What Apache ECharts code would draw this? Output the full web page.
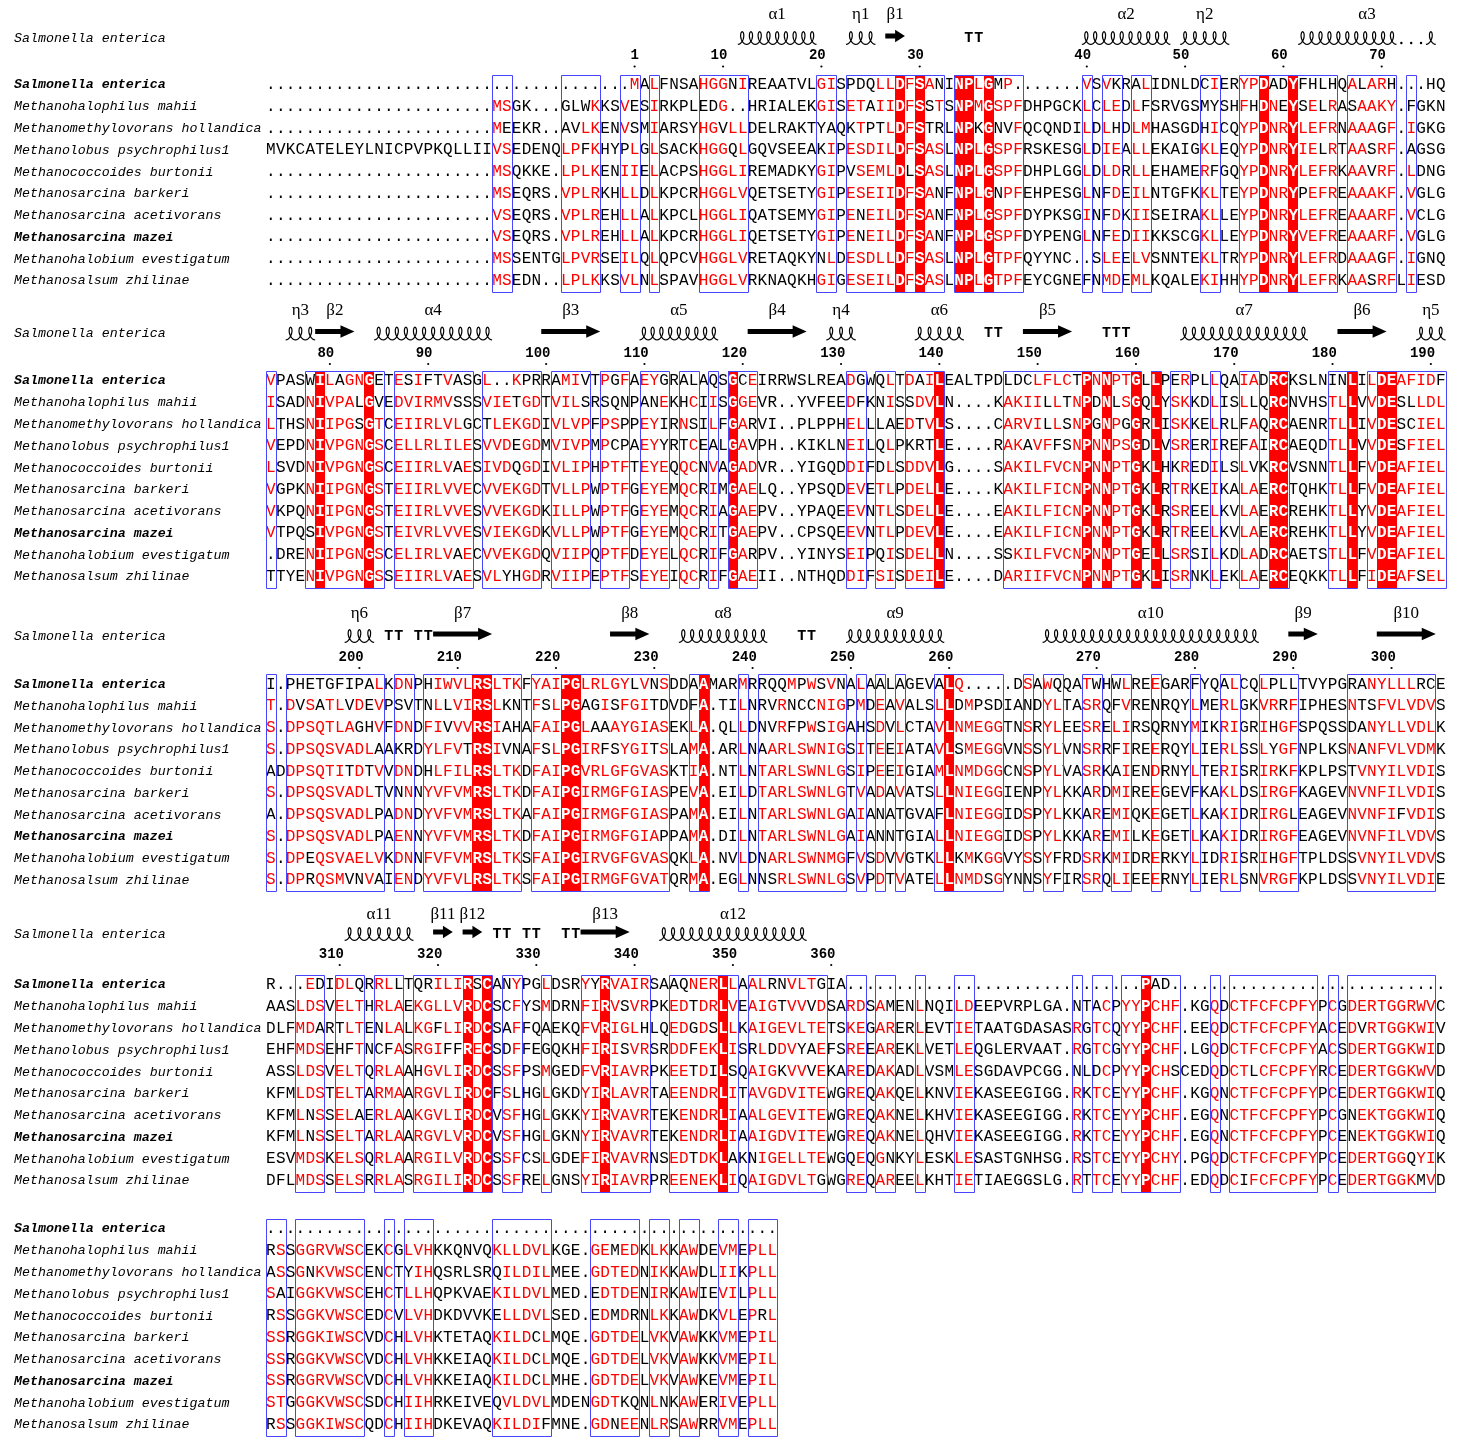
<!DOCTYPE html>
<html>
<head>
<meta charset="utf-8">
<script src="https://cdn.jsdelivr.net/npm/echarts@6/dist/echarts.min.js"></script>
<style>
  html, body { margin: 0; padding: 0; background: #ffffff; }
  #chart { width: 1464px; height: 1437px; }
</style>
</head>
<body>
<div id="chart"></div>
<script>
// ---------------------------------------------------------------------------
// Multiple sequence alignment (ESPript style), Salmonella enterica numbering
// ---------------------------------------------------------------------------

const speciesNames = [
  'Salmonella enterica',
  'Methanohalophilus mahii',
  'Methanomethylovorans hollandica',
  'Methanolobus psychrophilus1',
  'Methanococcoides burtonii',
  'Methanosarcina barkeri',
  'Methanosarcina acetivorans',
  'Methanosarcina mazei',
  'Methanohalobium evestigatum',
  'Methanosalsum zhilinae'
];
const referenceName = 'Salmonella enterica';

// alignment block 1 (columns 1-120)
const block1 = [
  '..........' + '..........' + '..........' + '.......' + 'MALFNSAHGGNIREAATVLGISPDQLLDFSANINPLGMP' + '.......' + 'VSVKRALIDNLDCIERYPDADYFHLHQALARH...HQ',
  '..........' + '..........' + '...' + 'MSGK...GLWKKSVESI' + 'RKPLEDG..HRIALEKGISETAIIDFSSTSNPMGSPFDHP' + 'GCKLCLEDLFSRVGSMYSHFHDNEYSELRASAAKY.FGKN',
  '..........' + '..........' + '...' + 'MEEKR..AVLKENVSMI' + 'ARSYHGVLLDELRAKTYAQKTPTLDFSTRLNPKGNVFQCQ' + 'NDILDLHDLMHASGDHICQYPDNRYLEFRNAAAGF.IGKG',
  'MVKCATELEYLNICPVPKQLLIIVSEDENQLPFKHYPLGL' + 'SACKHGGQLGQVSEEAKIPESDILDFSASLNPLGSPFRSK' + 'ESGLDIEALLEKAIGKLEQYPDNRYIELRTAASRF.AGSG',
  '..........' + '..........' + '...' + 'MSQKKE.LPLKENIIEL' + 'ACPSHGGLIREMADKYGIPVSEMLDLSASLNPLGSPFDHP' + 'LGGLDLDRLLEHAMERFGQYPDNRYLEFRKAAVRF.LDNG',
  '..........' + '..........' + '...' + 'MSEQRS.VPLRKHLLDL' + 'KPCRHGGLVQETSETYGIPESEIIDFSANFNPLGNPFEHP' + 'ESGLNFDEILNTGFKKLTEYPDNRYPEFREAAAKF.VGLG',
  '..........' + '..........' + '...' + 'VSEQRS.VPLREHLLAL' + 'KPCLHGGLIQATSEMYGIPENEILDFSANFNPLGSPFDYP' + 'KSGINFDKIISEIRAKLLEYPDNRYLEFREAAARF.VCLG',
  '..........' + '..........' + '...' + 'VSEQRS.VPLREHLLAL' + 'KPCRHGGLIQETSETYGIPENEILDFSANFNPLGSPFDYP' + 'ENGLNFEDIIKKSCGKLLEYPDNRYVEFREAAARF.VGLG',
  '..........' + '..........' + '...' + 'MSSENTGLPVRSEILQL' + 'QPCVHGGLVRETAQKYNLDESDLLDFSASLNPLGTPFQYY' + 'NC..SLEELVSNNTEKLTRYPDNRYLEFRDAAAGF.IGNQ',
  '..........' + '..........' + '...' + 'MSEDN..LPLKKSVLNL' + 'SPAVHGGLVRKNAQKHGIGESEILDFSASLNPLGTPFEYC' + 'GNEFNMDEMLKQALEKIHHYPDNRYLEFRKAASRFLIESD'
];

// alignment block 2 (columns 121-240)
const block2 = [
  'VPASWILAGNGETESIFTVASGL..KPRRAMIVTPGFAEY' + 'GRALAQSGCEIRRWSLREADGWQLTDAILEALTPDLDCLF' + 'LCTPNNPTGLLPERPLLQAIADRCKSLNINLILDEAFIDF',
  'ISADNIVPALGVEDVIRMVSSSVIETGDTVILSRSQNPAN' + 'EKHCIISGGEVR..YVFEEDFKNISSDVLN....KAKIIL' + 'LTNPDNLSGQLYSKKDLISLLQRCNVHSTLLVVDESLLDL',
  'LTHSNIIPGSGTCEIIRLVLGCTLEKGDIVLVPFPSPPEY' + 'IRNSILFGARVI..PLPPHELLLAEDTVLS....CARVIL' + 'LSNPGNPGGRLISKKELRLFAQRCAENRTLLIVDESCIEL',
  'VEPDNIVPGNGSCELLRLILESVVDEGDMVIVPMPCPAEY' + 'YRTCEALGAVPH..KIKLNEILQLPKRTLE....RAKAVF' + 'FSNPNNPSGDLVSRERIREFAIRCAEQDTLLVVDESFIEL',
  'LSVDNIVPGNGSCEIIRLVAESIVDQGDIVLIPHPTFTEY' + 'EQQCNVAGADVR..YIGQDDIFDLSDDVLG....SAKILF' + 'VCNPNNPTGKLHKREDILSLVKRCVSNNTLLFVDEAFIEL',
  'VGPKNIIPGNGSTEIIRLVVECVVEKGDTVLLPWPTFGEY' + 'EMQCRIMGAELQ..YPSQDEVETLPDELLE....KAKILF' + 'ICNPNNPTGKLRTRKEIKALAERCTQHKTLLFVDEAFIEL',
  'VKPQNIIPGNGSTEIIRLVVESVVEKGDKILLPWPTFGEY' + 'EMQCRIAGAEPV..YPAQEEVNTLSDELLE....EAKILF' + 'ICNPNNPTGKLRSREELKVLAERCREHKTLLYVDEAFIEL',
  'VTPQSIVPGNGSTEIVRLVVESVIEKGDKVLLPWPTFGEY' + 'EMQCRITGAEPV..CPSQEEVNTLPDEVLE....EAKILF' + 'ICNPNNPTGKLRTREELKVLAERCREHKTLLYVDEAFIEL',
  '.DRENIIPGNGSCELIRLVAECVVEKGDQVIIPQPTFDEY' + 'ELQCRIFGARPV..YINYSEIPQISDELLN....SSKILF' + 'VCNPNNPTGELLSRSILKDLADRCAETSTLLFVDEAFIEL',
  'TTYENIVPGNGSSEIIRLVAESVLYHGDRVIIPEPTFSEY' + 'EIQCRIFGAEII..NTHQDDIFSISDEILE....DARIIF' + 'VCNPNNPTGKLISRNKLEKLAERCEQKKTLLFIDEAFSEL'
];

// alignment block 3 (columns 241-360)
const block3 = [
  'I.PHETGFIPALKDNPHIWVLRSLTKFYAIPGLRLGYLVN' + 'SDDAAMARMRRQQMPWSVNALAALAGEVALQ.....DSAW' + 'QQATWHWLREEGARFYQALCQLPLLTVYPGRANYLLLRCE',
  'T.DVSATLVDEVPSVTNLLVIRSLKNTFSLPGAGISFGIT' + 'DVDFA.TILNRVRNCCNIGPMDEAVALSLLDMPSDIANDY' + 'LTASRQFVRENRQYLMERLGKVRRFIPHESNTSFVLVDVS',
  'S.DPSQTLAGHVFDNDFIVVVRSIAHAFAIPGLAAAYGIA' + 'SEKLA.QLLDNVRFPWSIGAHSDVLCTAVLNMEGGTNSRY' + 'LEESRELIRSQRNYMIKRIGRIHGFSPQSSDANYLLVDLK',
  'S.DPSQSVADLAAKRDYLFVTRSIVNAFSLPGIRFSYGIT' + 'SLAMA.ARLNAARLSWNIGSITEEIATAVLSMEGGVNSSY' + 'LVNSRRFIREERQYLIERLSSLYGFNPLKSNANFVLVDMK',
  'ADDPSQTITDTVVDNDHLFILRSLTKDFAIPGVRLGFGVA' + 'SKTIA.NTLNTARLSWNLGSIPEEIGIAMLNMDGGCNSPY' + 'LVASRKAIENDRNYLTERISRIRKFKPLPSTVNYILVDIS',
  'S.DPSQSVADLTVNNNYVFVMRSLTKDFAIPGIRMGFGIA' + 'SPEVA.EILDTARLSWNLGTVADAVATSLLNIEGGIENPY' + 'LKKARDMIREEGEVFKAKLDSIRGFKAGEVNVNFILVDIS',
  'A.DPSQSVADLPADNDYVFVMRSLTKAFAIPGIRMGFGIA' + 'SPAMA.EILNTARLSWNLGAIANATGVAFLNIEGGIDSPY' + 'LKKAREMIQKEGETLKAKIDRIRGLEAGEVNVNFIFVDIS',
  'S.DPSQSVADLPAENNYVFVMRSLTKDFAIPGIRMGFGIA' + 'PPAMA.DILNTARLSWNLGAIANNTGIALLNIEGGIDSPY' + 'LKKAREMILKEGETLKAKIDRIRGFEAGEVNVNFILVDVS',
  'S.DPEQSVAELVKDNNFVFVMRSLTKSFAIPGIRVGFGVA' + 'SQKLA.NVLDNARLSWNMGFVSDVVGTKLLKMKGGVYSSY' + 'FRDSRKMIDRERKYLIDRISRIHGFTPLDSSVNYILVDVS',
  'S.DPRQSMVNVAIENDYVFVLRSLTKSFAIPGIRMGFGVA' + 'TQRMA.EGLNNSRLSWNLGSVPDTVATELLNMDSGYNNSY' + 'FIRSRQLIEEERNYLIERLSNVRGFKPLDSSVNYILVDIE'
];

// alignment block 4 (columns 361-480)
const block4 = [
  'R...EDIDLQRRLLTQRILIRSCANYPGLDSRYYRVAIRS' + 'AAQNERLLAALRNVLTGIA' + '..........' + '..........' + '.' + '.........' + 'PAD' + '..........' + '..........' + '........',
  'AASLDSVELTHRLAEKGLLVRDCSCFYSMDRNFIRVSVRP' + 'KEDTDRLVEAIGTVVVDSARDSAMENLNQILDEEPVRPLG' + 'A.NTACPYYPCHF.KGQDCTFCFCPFYPCGDERTGGRWVC',
  'DLFMDARTLTENLALKGFLIRDCSAFFQAEKQFVRIGLHL' + 'QEDGDSLLKAIGEVLTETSKEGARERLEVTIETAATGDAS' + 'ASRGTCQYYPCHF.EEQDCTFCFCPFYACEDVRTGGKWIV',
  'EHFMDSEHFTNCFASRGIFFRECSDFFEGQKHFIRISVRS' + 'RDDFEKLISRLDDVYAEFSREEAREKLVETLEQGLERVAA' + 'T.RGTCGYYPCHF.LGQDCTFCFCPFYACSDERTGGKWID',
  'ASSLDSVELTQRLAAHGVLIRDCSSFPSMGEDFVRIAVRP' + 'KEETDILSQAIGKVVVEKAREDAKADLVSMLESGDAVPCG' + 'G.NLDCPYYPCHSCEDQDCTLCFCPFYRCEDERTGGKWVD',
  'KFMLDSTELTARMAARGVLIRDCFSLHGLGKDYIRLAVRT' + 'AEENDRLITAVGDVITEWGREQAKQELKNVIEKASEEGIG' + 'G.RKTCEYYPCHF.KGQNCTFCFCPFYPCEDERTGGKWIQ',
  'KFMLNSSELAERLAAKGVLIRDCVSFHGLGKKYIRVAVRT' + 'EKENDRLIAALGEVITEWGREQAKNELKHVIEKASEEGIG' + 'G.RKTCEYYPCHF.EGQNCTFCFCPFYPCGNEKTGGKWIQ',
  'KFMLNSSELTARLAARGVLVRDCVSFHGLGKNYIRVAVRT' + 'EKENDRLIAAIGDVITEWGREQAKNELQHVIEKASEEGIG' + 'G.RKTCEYYPCHF.EGQNCTFCFCPFYPCENEKTGGKWIQ',
  'ESVMDSKELSQRLAARGILVRDCSSFCSLGDEFIRVAVRN' + 'SEDTDKLAKNIGELLTEWGQEQGNKYLESKLESASTGNHS' + 'G.RSTCEYYPCHY.PGQDCTFCFCPFYPCEDERTGGQYIK',
  'DFLMDSSELSRRLASRGILIRDCSSFRELGNSYIRIAVRP' + 'REENEKLIQAIGDVLTGWGREQAREELKHTIETIAEGGSL' + 'G.RTTCEYYPCHF.EDQDCIFCFCPFYPCEDERTGGKMVD'
];

// alignment block 5 (columns 481-532)
const block5 = [
  '..........' + '..........' + '..........' + '..........' + '..........' + '..',
  'RSSGGRVWSCEKCGLVHKKQNVQKLLDVLKGE.GEMEDKLKKAWDEVMEPLL',
  'ASSGNKVWSCENCTYIHQSRLSRQILDILMEE.GDTEDNIKKAWDLIIKPLL',
  'SAIGGKVWSCEHCTLLHQPKVAEKILDVLMED.EDTDENIRKAWIEVILPLL',
  'RSSGGKVWSCEDCVLVHDKDVVKELLDVLSED.EDMDRNLKKAWDKVLEPRL',
  'SSRGGKIWSCVDCHLVHKTETAQKILDCLMQE.GDTDELVKVAWKKVMEPIL',
  'SSRGGKVWSCVDCHLVHKKEIAQKILDCLMQE.GDTDELVKVAWKKVMEPIL',
  'SSRGGRVWSCVDCHLVHKKEIAQKILDCLMHE.GDTDELVKVAWKEVMEPIL',
  'STGGGKVWSCSDCHIIHRKEIVEQVLDVLMDENGDTKQNLNKAWERIVEPLL',
  'RSSGGKIWSCQDCHIIHDKEVAQKILDIFMNE.GDNEENLRSAWRRVMEPLL'
];

// framed (similar) column runs per block, 0-based column within the block
const block1Frames = [[23,24],[30,33],[36,37],[39,39],[44,48],[56,57],[59,68],[70,76],[83,83],[85,86],[88,89],[95,96],[99,108],[110,114],[116,116]];
const block2Frames = [[0,0],[4,11],[13,20],[22,27],[29,32],[34,36],[38,40],[42,43],[45,45],[47,49],[59,60],[62,63],[65,68],[75,88],[90,90],[92,93],[96,96],[99,100],[102,103],[108,110],[112,119]];
const block3Frames = [[0,0],[2,11],[13,14],[16,25],[27,40],[43,44],[48,48],[50,58],[60,60],[62,62],[64,64],[68,74],[77,77],[79,80],[83,84],[86,87],[90,90],[94,94],[97,98],[101,104],[110,118]];
const block4Frames = [[3,5],[7,9],[11,13],[15,22],[24,25],[28,28],[32,38],[41,47],[49,56],[59,60],[62,63],[66,66],[70,71],[82,82],[84,85],[87,92],[96,96],[98,106],[108,108],[110,118]];
const block5Frames = [[0,1],[3,9],[12,12],[14,16],[23,28],[33,37],[39,40],[42,43],[46,47],[49,51]];

// strictly conserved columns per block
const block1Identical = [64, 66, 70, 71, 73, 101, 104];
const block2Identical = [5, 10, 47, 68, 83, 85, 88, 90, 102, 103, 110, 113, 114];
const block3Identical = [21, 22, 30, 31, 44, 69];
const block4Identical = [20, 22, 34, 46, 89];
const block5Identical = [];

// secondary structure of the reference: [block, kind, label, firstColumn, lastColumn]
const secondaryStructure = [
  [0, 'helix', 'α1', 48, 55], [0, 'helix', 'η1', 59, 61], [0, 'strand', 'β1', 63, 64],
  [0, 'turn', '', 71, 72], [0, 'helix', 'α2', 83, 91], [0, 'helix', 'η2', 93, 97],
  [0, 'helix', 'α3', 105, 118],
  [1, 'helix', 'η3', 2, 4], [1, 'strand', 'β2', 5, 8], [1, 'helix', 'α4', 11, 22],
  [1, 'strand', 'β3', 28, 33], [1, 'helix', 'α5', 38, 45], [1, 'strand', 'β4', 49, 54],
  [1, 'helix', 'η4', 57, 59], [1, 'helix', 'α6', 66, 70], [1, 'turn', '', 73, 74],
  [1, 'strand', 'β5', 77, 81], [1, 'turn', '', 85, 87], [1, 'helix', 'α7', 93, 105],
  [1, 'strand', 'β6', 109, 113], [1, 'helix', 'η5', 117, 119],
  [2, 'helix', 'η6', 8, 10], [2, 'turn', '', 12, 13], [2, 'turn', '', 15, 16],
  [2, 'strand', 'β7', 17, 22], [2, 'strand', 'β8', 35, 38], [2, 'helix', 'α8', 42, 50],
  [2, 'turn', '', 54, 55], [2, 'helix', 'α9', 59, 68], [2, 'helix', 'α10', 79, 100],
  [2, 'strand', 'β9', 104, 106], [2, 'strand', 'β10', 113, 118],
  [3, 'helix', 'α11', 8, 14], [3, 'strand', 'β11', 17, 18], [3, 'strand', 'β12', 20, 21],
  [3, 'turn', '', 23, 24], [3, 'turn', '', 26, 27], [3, 'turn', '', 30, 31],
  [3, 'strand', 'β13', 32, 36], [3, 'helix', 'α12', 40, 54]
];

// residue similarity groups used to colour residues inside framed columns
const similarityGroups = ['ILVM', 'FYW', 'KR', 'DE', 'ST', 'NQ', 'AG', 'H', 'P', 'C'];

// ---------------------------------------------------------------------------
// layout
// ---------------------------------------------------------------------------
const CHAR_W = 9.83;
const SEQ_LEFT = 266;
const NCOL = 120;
const CANVAS_H = 1437;
const rowStart = [85, 381, 684.5, 985, 1229];
const rowStep = 21.75;
const labelY = [15, 311, 614, 915];
const coilY = [38, 333.5, 636, 934];
const numberY = [55.5, 353, 657, 954];
const nameX = (14 - SEQ_LEFT) / CHAR_W;

const RED = '#ff0000';
const FRAME_BLUE = '#4646ff';
const MONO = '"Liberation Mono", "DejaVu Sans Mono", monospace';
const SEQ_FONT = '16px ' + MONO;
const SEQ_FONT_BOLD = 'bold 16px ' + MONO;
const NAME_FONT = 'italic 13.3px ' + MONO;
const NAME_FONT_BOLD = 'italic bold 13.3px ' + MONO;
const NUM_FONT = 'bold 14px ' + MONO;
const TURN_FONT = 'bold 15px ' + MONO;
const SS_LABEL_FONT = '17px "Liberation Serif", "DejaVu Serif", serif';
const emphasisRows = [0, 7];

const blocks = [block1, block2, block3, block4, block5];
const blockFrames = [block1Frames, block2Frames, block3Frames, block4Frames, block5Frames];
const blockIdentical = [block1Identical, block2Identical, block3Identical, block4Identical, block5Identical];

// sanity check of the alignment widths
const widthProblems = [];
blocks.forEach((rows, b) => {
  const want = b < 4 ? NCOL : 52;
  rows.forEach((s, r) => { if (s.length !== want) widthProblems.push('block ' + (b + 1) + ' row ' + (r + 1) + ': ' + s.length); });
});
if (widthProblems.length) throw new Error('alignment width mismatch -> ' + widthProblems.join('; '));

const rowY = (b, r) => rowStart[b] + r * rowStep;
const frameTop = b => rowY(b, 0) - 10.5;
const frameBottom = b => rowY(b, 9) + 10.5;

function dominantGroup(chars) {
  let best = '', bestN = 0;
  similarityGroups.forEach(g => {
    const n = chars.filter(ch => g.indexOf(ch) >= 0).length;
    if (n > bestN) { best = g; bestN = n; }
  });
  return best;
}

// ---------------------------------------------------------------------------
// items for each layer
// ---------------------------------------------------------------------------
const residueItems = [];
const frameItems = [];
const identItems = [];
blocks.forEach((rows, b) => {
  const framed = new Set();
  blockFrames[b].forEach(([c0, c1]) => {
    for (let c = c0; c <= c1; c++) framed.add(c);
    frameItems.push({ x: c0, y: frameTop(b), x2: c1 + 1, y2: frameBottom(b) });
  });
  const ident = new Set(blockIdentical[b]);
  ident.forEach(c => identItems.push({ x: c, y: frameTop(b), x2: c + 1, y2: frameBottom(b) }));
  const ncol = rows[0].length;
  for (let c = 0; c < ncol; c++) {
    const colChars = rows.map(s => s[c]);
    const grp = framed.has(c) && !ident.has(c) ? dominantGroup(colChars) : '';
    rows.forEach((s, r) => {
      const ch = s[c];
      let fill = '#000000', font = SEQ_FONT;
      if (ident.has(c)) { fill = '#ffffff'; font = SEQ_FONT_BOLD; }
      else if (grp && ch !== '.' && grp.indexOf(ch) >= 0) fill = RED;
      residueItems.push({ x: c + 0.5, y: rowY(b, r), ch: ch, fill: fill, font: font });
    });
  }
});

const nameItems = [];
blocks.forEach((rows, b) => {
  speciesNames.forEach((name, r) => {
    nameItems.push({ x: nameX, y: rowY(b, r), text: name, font: emphasisRows.indexOf(r) >= 0 ? NAME_FONT_BOLD : NAME_FONT });
  });
  if (b < 4) nameItems.push({ x: nameX, y: coilY[b], text: referenceName, font: NAME_FONT });
});

// residue numbers of the reference sequence
const numberItems = [];
let residueCount = 0;
blocks.forEach((rows, b) => {
  const ref = rows[0];
  for (let c = 0; c < ref.length; c++) {
    if (ref[c] === '.') continue;
    residueCount++;
    if (b < 4 && (residueCount === 1 || residueCount % 10 === 0)) {
      numberItems.push({ x: c + 0.5, y: numberY[b], text: String(residueCount) });
    }
  }
});

const ssItems = secondaryStructure.map(([b, kind, label, from, to]) => ({ x: from, y: coilY[b], b, kind, label, from, to }));

// ---------------------------------------------------------------------------
// drawing helpers
// ---------------------------------------------------------------------------
function coilPoints(xa, xb, yc) {
  const span = xb - xa;
  const n = Math.max(1, Math.round(span / 9.2));
  const period = span / n;
  const steps = 24;
  const pts = [];
  for (let i = 0; i <= n * steps; i++) {
    const u = i / steps;
    const t = 2 * Math.PI * u + Math.PI;
    pts.push([xa + period * u - 3.5 * Math.sin(t), yc - 6.3 * Math.cos(t)]);
  }
  return pts;
}

function arrowPoints(xa, xb, yc) {
  const head = Math.min(14, (xb - xa) * 0.5);
  const sh = 2.6, hh = 6.3;
  return [[xa, yc - sh], [xb - head, yc - sh], [xb - head, yc - hh], [xb, yc],
          [xb - head, yc + hh], [xb - head, yc + sh], [xa, yc + sh]];
}

function drawStructure(it, api) {
  const children = [];
  const ref = blocks[it.b][0];
  if (it.kind === 'helix') {
    let c = it.from;
    while (c <= it.to) {
      const gap = ref[c] === '.';
      let e = c;
      while (e + 1 <= it.to && (ref[e + 1] === '.') === gap) e++;
      if (gap) {
        for (let k = c; k <= e; k++) {
          const p = api.coord([k + 0.5, it.y]);
          children.push({ type: 'circle', shape: { cx: p[0], cy: p[1] + 5, r: 1.2 }, style: { fill: '#000' } });
        }
      } else {
        const pa = api.coord([c, it.y]);
        const pb = api.coord([e + 1, it.y]);
        children.push({ type: 'polyline', shape: { points: coilPoints(pa[0], pb[0], pa[1]) },
          style: { stroke: '#000', lineWidth: 1.2, fill: null } });
      }
      c = e + 1;
    }
  } else if (it.kind === 'strand') {
    const pa = api.coord([it.from, it.y]);
    const pb = api.coord([it.to + 1, it.y]);
    children.push({ type: 'polygon', shape: { points: arrowPoints(pa[0], pb[0], pa[1] - 2) }, style: { fill: '#000' } });
  } else {
    for (let k = it.from; k <= it.to; k++) {
      const p = api.coord([k + 0.5, it.y]);
      children.push({ type: 'text', x: p[0], y: p[1], style: { text: 'T', font: TURN_FONT, fill: '#000', align: 'center', verticalAlign: 'middle' } });
    }
  }
  if (it.label) {
    const pl = api.coord([(it.from + it.to + 1) / 2, labelY[it.b]]);
    children.push({ type: 'text', x: pl[0], y: pl[1], style: { text: it.label, font: SS_LABEL_FONT, fill: '#000', align: 'center', verticalAlign: 'middle' } });
  }
  return { type: 'group', children };
}

function rectFrom(it, api) {
  const p = api.coord([it.x, it.y]);
  const q = api.coord([it.x2, it.y2]);
  return { x: Math.round(p[0]) + 0.5, y: Math.round(p[1]) + 0.5, width: Math.round(q[0] - p[0]), height: Math.round(q[1] - p[1]) };
}

function layer(name, items, draw, z) {
  return {
    type: 'custom', name: name, z: z, silent: true, animation: false, clip: false,
    coordinateSystem: 'cartesian2d',
    data: items.map(it => [it.x, it.y]),
    renderItem: (params, api) => draw(items[params.dataIndex], api)
  };
}

// ---------------------------------------------------------------------------
// chart
// ---------------------------------------------------------------------------
const chart = echarts.init(document.getElementById('chart'), null, { renderer: 'canvas', width: 1464, height: 1437 });
chart.setOption({
  animation: false,
  backgroundColor: '#ffffff',
  grid: { left: SEQ_LEFT, top: 0, width: NCOL * CHAR_W, height: CANVAS_H },
  xAxis: { type: 'value', min: 0, max: NCOL, show: false },
  yAxis: { type: 'value', min: 0, max: CANVAS_H, inverse: true, show: false },
  series: [
    layer('conserved', identItems, (it, api) => {
      const r = rectFrom(it, api);
      return { type: 'rect', shape: { x: r.x - 0.5, y: r.y - 0.5, width: r.width, height: r.height }, style: { fill: RED } };
    }, 1),
    layer('residues', residueItems, (it, api) => {
      const p = api.coord([it.x, it.y]);
      return { type: 'text', x: p[0], y: p[1], style: { text: it.ch, fill: it.fill, font: it.font, align: 'center', verticalAlign: 'middle' } };
    }, 2),
    layer('frames', frameItems, (it, api) => {
      return { type: 'rect', shape: rectFrom(it, api), style: { fill: 'none', stroke: FRAME_BLUE, lineWidth: 1 } };
    }, 3),
    layer('names', nameItems, (it, api) => {
      const p = api.coord([it.x, it.y]);
      return { type: 'text', x: p[0], y: p[1], style: { text: it.text, fill: '#000', font: it.font, align: 'left', verticalAlign: 'middle' } };
    }, 2),
    layer('numbering', numberItems, (it, api) => {
      const p = api.coord([it.x, it.y]);
      return { type: 'group', children: [
        { type: 'text', x: p[0] + 4.3, y: p[1], style: { text: it.text, fill: '#000', font: NUM_FONT, align: 'right', verticalAlign: 'middle' } },
        { type: 'circle', shape: { cx: p[0], cy: p[1] + 11, r: 1.1 }, style: { fill: '#000' } }
      ] };
    }, 2),
    layer('structure', ssItems, drawStructure, 2)
  ]
});
</script>
</body>
</html>
